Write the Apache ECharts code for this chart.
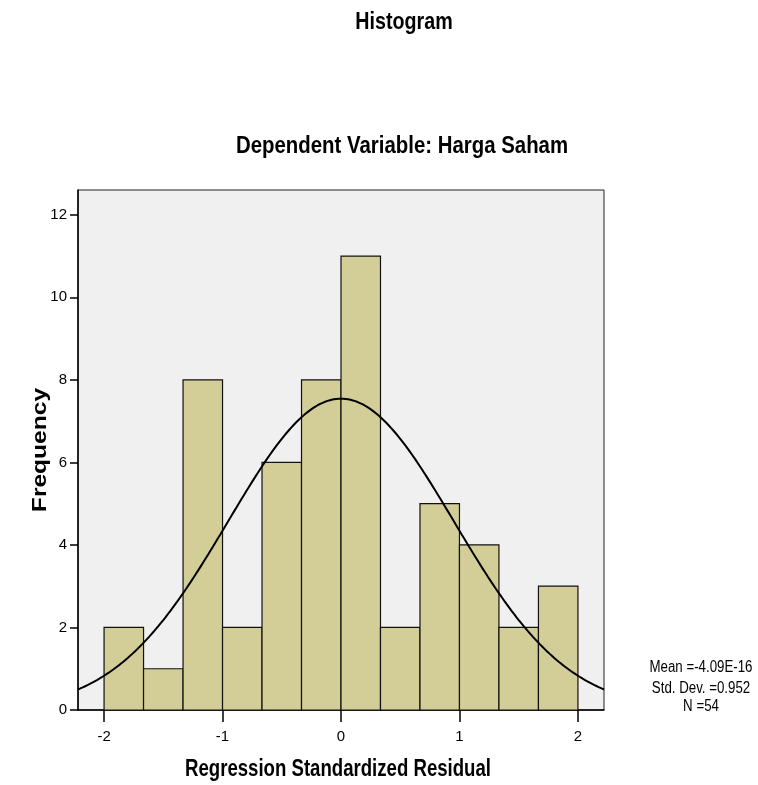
<!DOCTYPE html>
<html>
<head>
<meta charset="utf-8">
<script src="https://cdn.jsdelivr.net/npm/echarts@6/dist/echarts.min.js"></script>
<style>
html,body{margin:0;padding:0;background:#fff;}
#chart{width:758px;height:785px;}
</style>
</head>
<body>
<div id="chart"></div>
<script>
// Histogram bins (lower edge, upper edge) and frequencies
const binStarts = [-2, -1.6667, -1.3333, -1, -0.6667, -0.3333, 0, 0.3333, 0.6667, 1, 1.3333, 1.6667];
const binEnds   = [-1.6667, -1.3333, -1, -0.6667, -0.3333, 0, 0.3333, 0.6667, 1, 1.3333, 1.6667, 2];
const counts    = [2, 1, 8, 2, 6, 8, 11, 2, 5, 4, 2, 3];
const xTicks = [-2, -1, 0, 1, 2];
const yTicks = [0, 2, 4, 6, 8, 10, 12];
// Summary statistics shown in the chart
const mean = -4.09e-16;
const stdDev = 0.952;
const nObs = 54;
const binWidth = 1/3;
const statsLines = ['Mean =-4.09E-16', 'Std. Dev. =0.952', 'N =54'];
const titleText = 'Histogram';
const subtitleText = 'Dependent Variable: Harga Saham';
const xName = 'Regression Standardized Residual';
const yName = 'Frequency';

const xMin = -2.22, xMax = 2.22;
const FONT = "'Liberation Sans', Arial, sans-serif";

// normal curve fitted with the chart's stated mean / std. dev. / N
const curve = [];
for (let i = 0; i <= 222; i++) {
  const x = xMin + (xMax - xMin) * i / 222;
  const z = (x - mean) / stdDev;
  curve.push([x, nObs * binWidth * Math.exp(-0.5 * z * z) / (stdDev * Math.sqrt(2 * Math.PI))]);
}

const histData = counts.map((c, i) => [binStarts[i], binEnds[i], c]);

function label(text, x, y, size, bold, sx, rot) {
  return {type: 'text', x: x, y: y, scaleX: sx, scaleY: 1, rotation: rot || 0,
    style: {text: text, x: 0, y: 0, align: 'center', verticalAlign: 'middle',
      font: (bold ? 'bold ' : '') + size + 'px ' + FONT, fill: '#000'}};
}

const graphics = [
  label(titleText, 404, 22, 24, true, 0.82),
  label(subtitleText, 402, 146, 24, true, 0.85),
  label(xName, 338, 769, 24, true, 0.775),
  label(yName, 40, 450, 21, true, 1.17, Math.PI / 2)
];
const statsY = [668, 689, 707];
statsLines.forEach((t, i) => graphics.push(label(t, 701, statsY[i], 16, false, 0.83)));

const chart = echarts.init(document.getElementById('chart'));
chart.setOption({
  animation: false,
  backgroundColor: '#ffffff',
  grid: {left: 78, right: 154, top: 190, bottom: 75, show: true,
         backgroundColor: '#f0f0f0', borderColor: '#222', borderWidth: 1},
  xAxis: {
    type: 'value', min: xMin, max: xMax,
    axisLine: {show: true, onZero: false, lineStyle: {color: '#000', width: 1.5}},
    axisTick: {show: true, customValues: xTicks, length: 12, lineStyle: {color: '#000', width: 1.5}},
    axisLabel: {customValues: xTicks, fontFamily: FONT, fontSize: 15, color: '#000', margin: 19},
    splitLine: {show: false}
  },
  yAxis: {
    type: 'value', min: 0, max: 12.6,
    axisLine: {show: true, onZero: false, lineStyle: {color: '#000', width: 1.5}},
    axisTick: {show: true, customValues: yTicks, length: 8, lineStyle: {color: '#000', width: 1.5}},
    axisLabel: {customValues: yTicks, fontFamily: FONT, fontSize: 15, color: '#000', margin: 11},
    splitLine: {show: false}
  },
  series: [
    {
      type: 'custom',
      data: histData,
      encode: {x: [0, 1], y: 2},
      renderItem: function (params, api) {
        const p0 = api.coord([api.value(0), api.value(2)]);
        const p1 = api.coord([api.value(1), 0]);
        return {type: 'rect',
          shape: {x: p0[0], y: p0[1], width: p1[0] - p0[0], height: p1[1] - p0[1]},
          style: {fill: '#d3ce97', stroke: '#111', lineWidth: 1.2}};
      },
      z: 2
    },
    {
      type: 'line', data: curve, showSymbol: false, smooth: false,
      lineStyle: {color: '#000', width: 2}, z: 3
    }
  ],
  graphic: graphics
});
</script>
</body>
</html>
